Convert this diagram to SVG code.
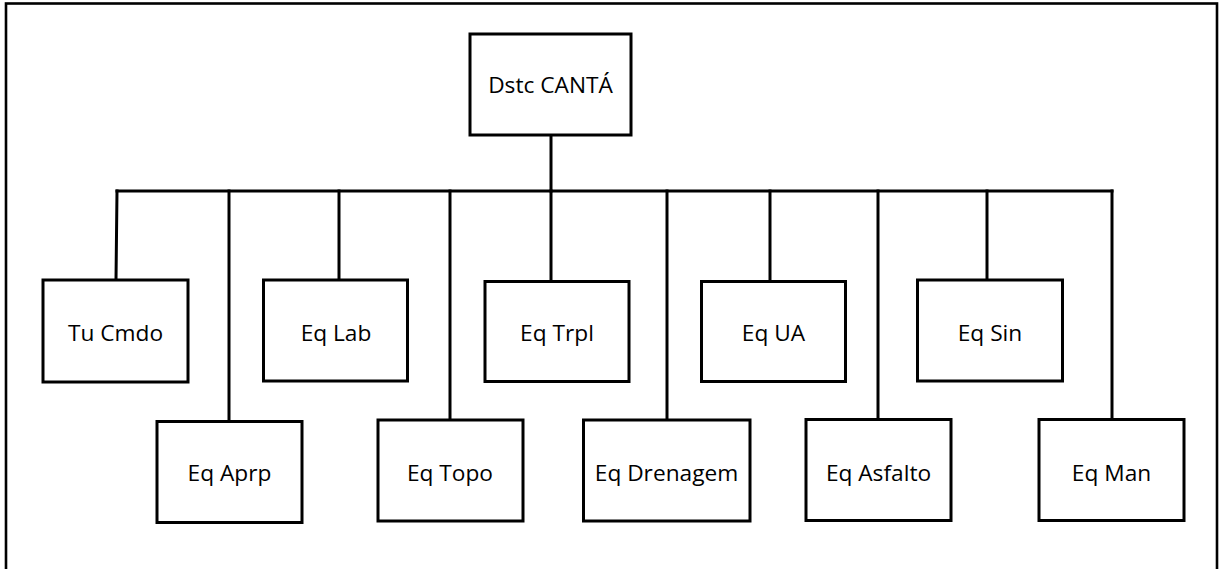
<svg xmlns="http://www.w3.org/2000/svg" width="1220" height="569" viewBox="0 0 1220 569">
  <style>
    .box { fill: #ffffff; stroke: #000000; stroke-width: 3; }
    .frame { fill: none; stroke: #000000; stroke-width: 2.6; }
    .wire { fill: none; stroke: #000000; stroke-width: 3; stroke-linecap: square; }
    .label { font-family: "Open Sans", "Liberation Sans", sans-serif; font-size: 22.7px; fill: #000000; text-anchor: middle; }
  </style>

  <rect width="1220" height="569" fill="#ffffff"/>
  <!-- outer frame, open at the bottom edge of the page -->
  <rect class="frame" x="6" y="3.5" width="1211" height="620"/>

  <!-- connectors -->
  <g id="connectors">
    <path class="wire" d="M551 135 V191"/>
    <path class="wire" d="M117 191 H1112"/>
    <path class="wire" d="M117 191 L116 280"/>
    <path class="wire" d="M229 191 V421"/>
    <path class="wire" d="M339 191 V280"/>
    <path class="wire" d="M450 191 V420"/>
    <path class="wire" d="M551 191 V281"/>
    <path class="wire" d="M667 191 V420"/>
    <path class="wire" d="M770 191 V281"/>
    <path class="wire" d="M878 191 V419"/>
    <path class="wire" d="M987 191 V280"/>
    <path class="wire" d="M1112 191 V419"/>
  </g>

  <!-- head of the district -->
  <g id="dstc-canta">
    <rect class="box" x="470" y="34" width="161" height="101"/>
    <text class="label" x="550.5" y="93">Dstc CANTÁ</text>
  </g>

  <!-- upper row -->
  <g id="tu-cmdo">
    <rect class="box" x="43" y="280" width="145" height="102"/>
    <text class="label" x="115.5" y="340.5">Tu Cmdo</text>
  </g>
  <g id="eq-lab">
    <rect class="box" x="263.5" y="280" width="144" height="101"/>
    <text class="label" x="336" y="340.5">Eq Lab</text>
  </g>
  <g id="eq-trpl">
    <rect class="box" x="485" y="281.5" width="144" height="100"/>
    <text class="label" x="557" y="340.5">Eq Trpl</text>
  </g>
  <g id="eq-ua">
    <rect class="box" x="701.5" y="281.5" width="144" height="100"/>
    <text class="label" x="773.5" y="340.5">Eq UA</text>
  </g>
  <g id="eq-sin">
    <rect class="box" x="917.5" y="280" width="145" height="101"/>
    <text class="label" x="990" y="340.5">Eq Sin</text>
  </g>

  <!-- lower row -->
  <g id="eq-aprp">
    <rect class="box" x="157" y="421.5" width="145" height="101"/>
    <text class="label" x="229.5" y="480.5">Eq Aprp</text>
  </g>
  <g id="eq-topo">
    <rect class="box" x="378" y="420" width="145" height="101"/>
    <text class="label" x="450" y="480.5">Eq Topo</text>
  </g>
  <g id="eq-drenagem">
    <rect class="box" x="583.5" y="420" width="166.5" height="101"/>
    <text class="label" x="666.5" y="480.5">Eq Drenagem</text>
  </g>
  <g id="eq-asfalto">
    <rect class="box" x="806" y="419.5" width="145" height="101"/>
    <text class="label" x="878.5" y="480.5">Eq Asfalto</text>
  </g>
  <g id="eq-man">
    <rect class="box" x="1039" y="419.5" width="145" height="101"/>
    <text class="label" x="1111.5" y="480.5">Eq Man</text>
  </g>
</svg>
